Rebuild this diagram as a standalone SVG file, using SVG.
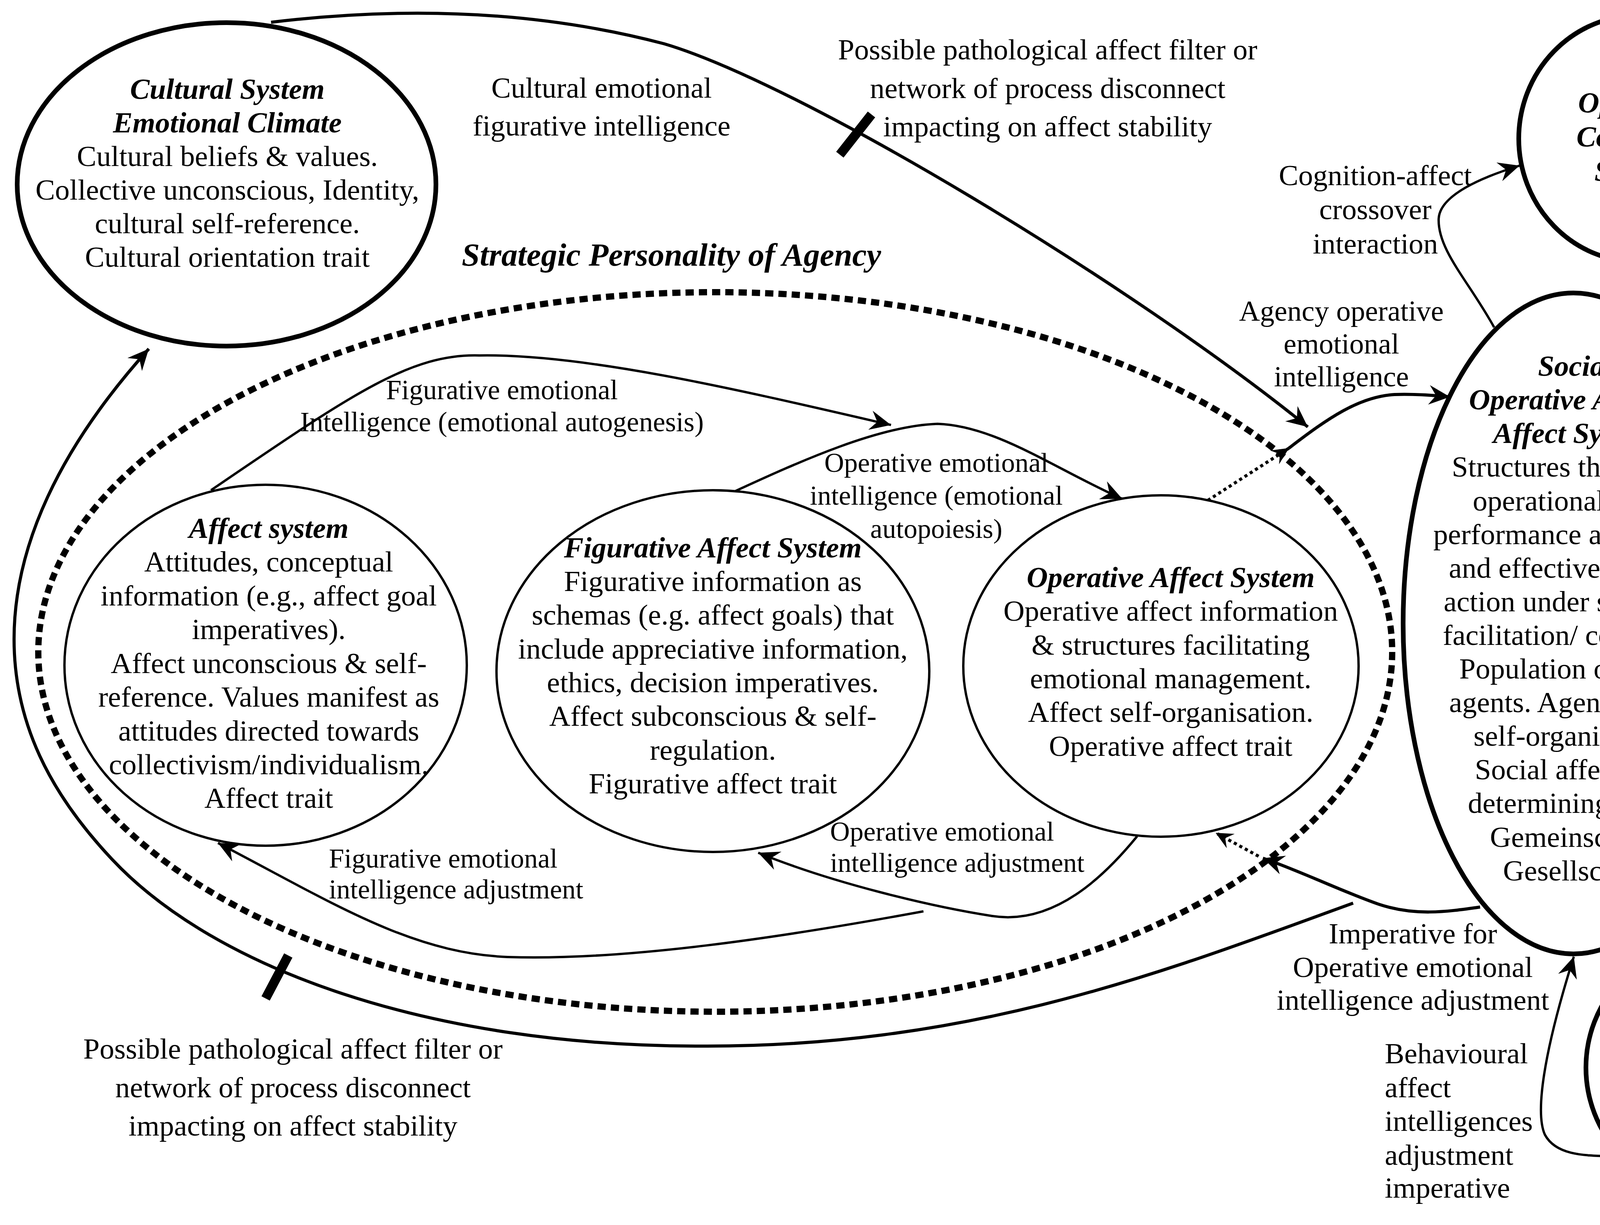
<svg xmlns="http://www.w3.org/2000/svg" width="4898" height="3136" viewBox="0 0 4898 3136">
<defs>
<style>
text { font-family: "Liberation Serif", "Times New Roman", serif; fill: #000; }
.c { text-anchor: middle; font-size: 75px; }
.s { text-anchor: start; font-size: 75px; }
.h { font-weight: bold; font-style: italic; }
.thin { fill: #fff; stroke: #000; stroke-width: 6; }
.thick { fill: #fff; stroke: #000; stroke-width: 12; }
.ln { fill: none; stroke: #000; stroke-width: 8; }
.lm { fill: none; stroke: #000; stroke-width: 6; }
.dot { fill: none; stroke: #000; stroke-width: 8; stroke-dasharray: 8 8; }
.dash { fill: none; stroke: #000; stroke-width: 16; stroke-dasharray: 21 13; }
.bar { stroke: #000; stroke-width: 24; }
</style>
<marker id="ah" markerUnits="userSpaceOnUse" viewBox="-56 -28 58 56" refX="0" refY="0" markerWidth="58" markerHeight="56" orient="auto">
<path d="M0,0 L-54,-25 L-36,0 L-54,25 Z" fill="#000"/>
</marker>
<marker id="ahs" markerUnits="userSpaceOnUse" viewBox="-46 -24 48 48" refX="0" refY="0" markerWidth="48" markerHeight="48" orient="auto">
<path d="M0,0 L-44,-21 L-28,0 L-44,21 Z" fill="#000"/>
</marker>
</defs>
<rect width="4898" height="3136" fill="#fff"/>

<g id="strategic-personality">
<ellipse class="dash" cx="1831" cy="1669" rx="1733" ry="921"/>
<text class="h" x="1182" y="680" style="font-size:83px">Strategic Personality of Agency</text>
</g>

<g id="connectors">
<path class="ln" d="M694,57 C1000,20 1350,20 1700,112 C2050,215 2900,730 3348,1093" marker-end="url(#ah)"/>
<line class="bar" x1="2150" y1="396" x2="2231" y2="293"/>
<path class="dot" d="M3092,1281 L3300,1147" marker-end="url(#ahs)"/>
<path class="ln" d="M3300,1147 C3400,1070 3480,1015 3570,1010 C3620,1008 3670,1012 3712,1016" marker-end="url(#ah)"/>
<path class="lm" d="M3825,838 C3760,720 3680,640 3683,560 C3686,500 3790,455 3890,424" marker-end="url(#ah)"/>
<path class="lm" d="M4508,372 C4560,500 4610,620 4598,720 C4585,830 4450,930 4368,1030" marker-end="url(#ah)"/>
<path class="lm" d="M4467,1861 C4560,1940 4670,2010 4690,2090 C4710,2170 4650,2350 4605,2510" marker-end="url(#ah)"/>
<path class="lm" d="M4141,2961 C4060,2958 3985,2960 3955,2905 C3930,2850 3950,2700 4029,2449" marker-end="url(#ah)"/>
<path class="ln" d="M3789,2322 C3700,2335 3620,2345 3530,2315 C3430,2280 3330,2230 3233,2197" marker-end="url(#ah)"/>
<path class="dot" d="M3222,2192 L3112,2132" marker-end="url(#ahs)"/>
<path class="ln" d="M3464,2312 C3000,2480 2500,2680 1800,2678 C1100,2680 550,2480 287,2200 C127,2030 36,1850 36,1636 C36,1400 150,1150 381,893" marker-end="url(#ah)"/>
<line class="bar" x1="680" y1="2556" x2="738" y2="2446"/>
<path class="lm" d="M2911,2141 C2830,2240 2700,2370 2540,2345 C2380,2320 2130,2260 1941,2183" marker-end="url(#ah)"/>
<path class="lm" d="M2364,2333 C2000,2400 1600,2460 1300,2450 C1050,2440 850,2310 558,2158" marker-end="url(#ah)"/>
<path class="lm" d="M540,1255 C900,1010 1050,905 1227,910 C1500,905 1900,1000 2281,1088" marker-end="url(#ah)"/>
<path class="lm" d="M1883,1257 C2050,1180 2250,1090 2400,1085 C2550,1090 2700,1200 2873,1277" marker-end="url(#ah)"/>
</g>

<g id="connector-labels">
<text class="c"><tspan x="1540" y="250">Cultural emotional</tspan><tspan x="1540" y="347">figurative intelligence</tspan></text>
<text class="c"><tspan x="2682" y="152">Possible pathological affect filter or</tspan><tspan x="2682" y="251">network of process disconnect</tspan><tspan x="2682" y="349">impacting on affect stability</tspan></text>
<text class="c" style="font-size:71px"><tspan x="1285" y="1022">Figurative emotional</tspan><tspan x="1285" y="1104">Intelligence (emotional autogenesis)</tspan></text>
<text class="c" style="font-size:70px"><tspan x="2397" y="1208">Operative emotional</tspan><tspan x="2397" y="1292">intelligence (emotional</tspan><tspan x="2397" y="1377">autopoiesis)</tspan></text>
<text class="c"><tspan x="3521" y="474">Cognition-affect</tspan><tspan x="3521" y="561">crossover</tspan><tspan x="3521" y="649">interaction</tspan></text>
<text class="c" style="font-size:74px"><tspan x="3434" y="821">Agency operative</tspan><tspan x="3434" y="905">emotional</tspan><tspan x="3434" y="989">intelligence</tspan></text>
<text class="s" style="font-size:74px"><tspan x="4494" y="1699">Behavioural</tspan><tspan x="4494" y="1785">emotional</tspan><tspan x="4494" y="1871">intelligence</tspan></text>
<text class="c"><tspan x="3617" y="2415">Imperative for</tspan><tspan x="3617" y="2501">Operative emotional</tspan><tspan x="3617" y="2585">intelligence adjustment</tspan></text>
<text class="s"><tspan x="3545" y="2722">Behavioural</tspan><tspan x="3545" y="2809">affect</tspan><tspan x="3545" y="2895">intelligences</tspan><tspan x="3545" y="2982">adjustment</tspan><tspan x="3545" y="3066">imperative</tspan></text>
<text class="s" style="font-size:70px"><tspan x="842" y="2221">Figurative emotional</tspan><tspan x="842" y="2300">intelligence adjustment</tspan></text>
<text class="s" style="font-size:70px"><tspan x="2125" y="2152">Operative emotional</tspan><tspan x="2125" y="2232">intelligence adjustment</tspan></text>
<text class="c"><tspan x="750" y="2710">Possible pathological affect filter or</tspan><tspan x="750" y="2809">network of process disconnect</tspan><tspan x="750" y="2907">impacting on affect stability</tspan></text>
</g>

<g id="cultural-system">
<ellipse class="thick" cx="580" cy="472" rx="536" ry="414"/>
<text class="c"><tspan class="h" x="582" y="253">Cultural System</tspan><tspan class="h" x="582" y="339">Emotional Climate</tspan><tspan x="582" y="425">Cultural beliefs &amp; values.</tspan><tspan x="582" y="511">Collective unconscious, Identity,</tspan><tspan x="582" y="597">cultural self-reference.</tspan><tspan x="582" y="683">Cultural orientation trait</tspan></text>
</g>

<g id="operative-cognition">
<ellipse class="thick" cx="4195" cy="355" rx="307" ry="316"/>
<text class="c h"><tspan x="4190" y="288">Operative</tspan><tspan x="4190" y="375">Cognition</tspan><tspan x="4190" y="463">System</tspan></text>
</g>

<g id="affect-system">
<ellipse class="thin" cx="680" cy="1703" rx="515" ry="462"/>
<text class="c"><tspan class="h" x="688" y="1377">Affect system</tspan><tspan x="688" y="1463">Attitudes, conceptual</tspan><tspan x="688" y="1550">information (e.g., affect goal</tspan><tspan x="688" y="1636">imperatives).</tspan><tspan x="688" y="1723">Affect unconscious &amp; self-</tspan><tspan x="688" y="1809">reference. Values manifest as</tspan><tspan x="688" y="1896">attitudes directed towards</tspan><tspan x="688" y="1982">collectivism/individualism.</tspan><tspan x="688" y="2068">Affect trait</tspan></text>
</g>

<g id="figurative-affect-system">
<ellipse class="thin" cx="1825" cy="1718" rx="554" ry="463"/>
<text class="c"><tspan class="h" x="1825" y="1427">Figurative Affect System</tspan><tspan x="1825" y="1513">Figurative information as</tspan><tspan x="1825" y="1599">schemas (e.g. affect goals) that</tspan><tspan x="1825" y="1686">include appreciative information,</tspan><tspan x="1825" y="1772">ethics, decision imperatives.</tspan><tspan x="1825" y="1858">Affect subconscious &amp; self-</tspan><tspan x="1825" y="1945">regulation.</tspan><tspan x="1825" y="2031">Figurative affect trait</tspan></text>
</g>

<g id="operative-affect-system">
<ellipse class="thin" cx="2972" cy="1705" rx="506" ry="437"/>
<text class="c"><tspan class="h" x="2997" y="1503">Operative Affect System</tspan><tspan x="2997" y="1589">Operative affect information</tspan><tspan x="2997" y="1676">&amp; structures facilitating</tspan><tspan x="2997" y="1762">emotional management.</tspan><tspan x="2997" y="1848">Affect self-organisation.</tspan><tspan x="2997" y="1935">Operative affect trait</tspan></text>
</g>

<g id="social-operative-agency">
<ellipse class="thick" cx="4028" cy="1596" rx="436" ry="846"/>
<text class="c"><tspan class="h" x="4033" y="962">Social</tspan><tspan class="h" x="4033" y="1048">Operative Agency</tspan><tspan class="h" x="4033" y="1134">Affect System</tspan><tspan x="4033" y="1220">Structures that create</tspan><tspan x="4033" y="1307">operational affect</tspan><tspan x="4033" y="1393">performance as efficient</tspan><tspan x="4033" y="1479">and effective directed</tspan><tspan x="4033" y="1565">action under structural</tspan><tspan x="4033" y="1651">facilitation/ constraint.</tspan><tspan x="4033" y="1737">Population of affect</tspan><tspan x="4033" y="1823">agents. Agency affect</tspan><tspan x="4033" y="1909">self-organisation.</tspan><tspan x="4033" y="1995">Social affect trait</tspan><tspan x="4033" y="2081">determining affect</tspan><tspan x="4033" y="2168">Gemeinschaft/</tspan><tspan x="4033" y="2254">Gesellschaft</tspan></text>
</g>

<g id="behavioural-environment">
<ellipse class="thick" cx="4370" cy="2733" rx="310" ry="318"/>
<text class="c"><tspan class="h" x="4375" y="2577">Behavioural</tspan><tspan class="h" x="4375" y="2664">environment</tspan><tspan x="4375" y="2751">Agent affect</tspan><tspan x="4375" y="2838">activities and</tspan><tspan x="4375" y="2925">interactions</tspan></text>
</g>
</svg>
